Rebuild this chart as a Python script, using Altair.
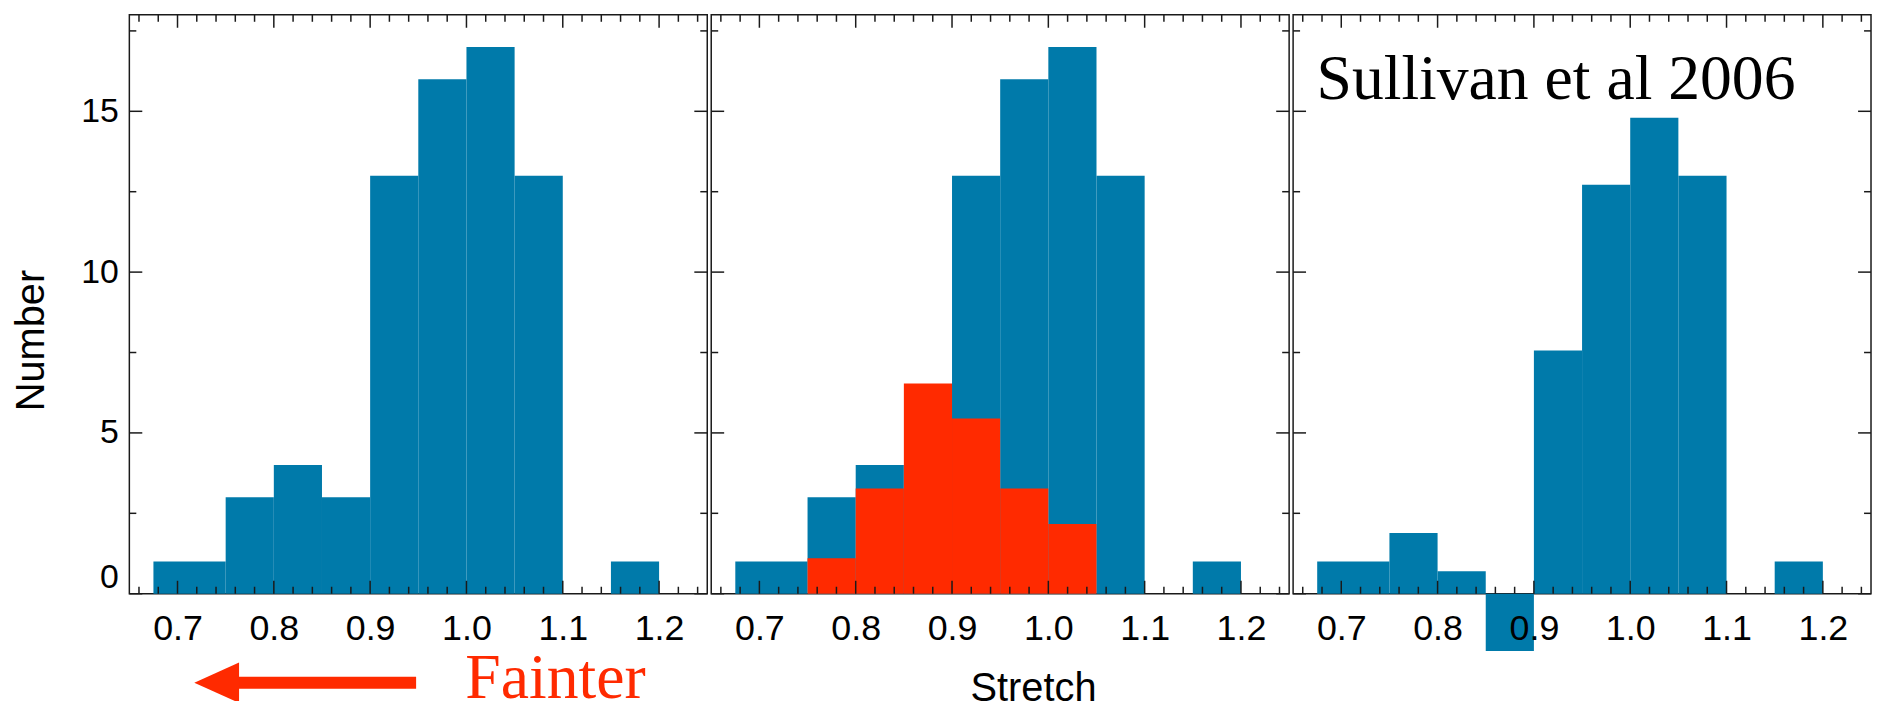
import altair as alt
import pandas as pd

# ---------------- data ----------------
bin_start = [0.675, 0.75, 0.80, 0.85, 0.90, 0.95, 1.00, 1.05, 1.10, 1.15]
bin_end = [0.75, 0.80, 0.85, 0.90, 0.95, 1.00, 1.05, 1.10, 1.15, 1.20]
all_counts = [1, 3, 4, 3, 13, 16, 17, 13, 0, 1]

red_start = [0.75, 0.80, 0.85, 0.90, 0.95, 1.00]
red_end = [0.80, 0.85, 0.90, 0.95, 1.00, 1.05]
red_counts = [1.1, 3.27, 6.54, 5.45, 3.27, 2.17]

corrected_counts = [1, 1.89, 0.70, -1.78, 7.56, 12.72, 14.8, 13.0, 0, 1]

x_major = [0.7, 0.8, 0.9, 1.0, 1.1, 1.2]
x_minor = [0.66, 0.68, 0.72, 0.74, 0.76, 0.78, 0.82, 0.84, 0.86, 0.88,
           0.92, 0.94, 0.96, 0.98, 1.02, 1.04, 1.06, 1.08,
           1.12, 1.14, 1.16, 1.18, 1.22, 1.24]
y_major = [0, 5, 10, 15]
y_minor = [2.5, 7.5, 12.5, 17.5]

# ---------------- style ----------------
W, H = 581, 582
BLUE = "#007AAA"
RED = "#FF2A00"
INK = "#1a1a1a"
SANS = "Liberation Sans"
SERIF = "Liberation Serif"

xs = alt.Scale(domain=[0.65, 1.25], nice=False, zero=False)
ys = alt.Scale(domain=[0, 18], nice=False, zero=False)

x_axis = alt.Axis(values=x_major, format=".1f", labelFontSize=36, labelFont=SANS,
                  labelColor="black", ticks=False, tickSize=0, domain=False, grid=False,
                  title=None, labelPadding=18, labelFlush=False, zindex=1)

y_axis_main = alt.Axis(values=y_major, format="d", labelFontSize=34, labelFont=SANS,
                       labelColor="black", ticks=False, tickSize=0, domain=False, grid=False,
                       labelPadding=11, labelFlush=False,
                       labelOffset={"condition": {"test": "datum.value === 0", "value": -16}, "value": 0},
                       title="Number", titleFont=SANS, titleFontSize=40, titleFontWeight="normal",
                       titleColor="black", titleAngle=270, titleX=-98.7, titleY=327,
                       titleAlign="center", titleBaseline="middle")

one = pd.DataFrame({"a": [0]})


def hist(start, end, counts, color, yaxis):
    df = pd.DataFrame({"start": start, "end": end, "count": counts, "zero": [0] * len(counts)})
    return alt.Chart(df).mark_rect(color=color).encode(
        x=alt.X("start:Q", scale=xs, axis=x_axis),
        x2="end:Q",
        y=alt.Y("zero:Q", scale=ys, axis=yaxis),
        y2="count:Q",
    )


def tick_layers(yaxis):
    layers = []
    for vals, ln in ((x_major, 13), (x_minor, 7)):
        df = pd.DataFrame({"v": vals})
        base = alt.Chart(df).mark_rule(color=INK, strokeWidth=1.5)
        layers.append(base.encode(x=alt.X("v:Q", scale=xs, axis=x_axis),
                                  y=alt.value(H), y2=alt.value(H - ln)))
        layers.append(base.encode(x=alt.X("v:Q", scale=xs, axis=x_axis),
                                  y=alt.value(0), y2=alt.value(ln)))
    for vals, ln in ((y_major, 13), (y_minor, 7)):
        df = pd.DataFrame({"v": vals})
        base = alt.Chart(df).mark_rule(color=INK, strokeWidth=1.5)
        layers.append(base.encode(y=alt.Y("v:Q", scale=ys, axis=yaxis),
                                  x=alt.value(0), x2=alt.value(ln)))
        layers.append(base.encode(y=alt.Y("v:Q", scale=ys, axis=yaxis),
                                  x=alt.value(W), x2=alt.value(W - ln)))
    return layers


# ---------------- panel 1 ----------------
fainter = alt.Chart(one).mark_text(text="Fainter", font=SERIF, fontSize=64, color=RED,
                                   align="left", baseline="alphabetic").encode(
    x=alt.value(337.8), y=alt.value(687.3))
shaft = alt.Chart(one).mark_rule(color=RED, strokeWidth=12, strokeCap="butt").encode(
    x=alt.value(109), x2=alt.value(288.3), y=alt.value(671.5))
head = alt.Chart(one).mark_point(shape="M -1 0 L 1 -0.9 L 1 0.9 Z", size=2025, filled=True,
                                 color=RED, opacity=1, strokeWidth=0).encode(
    x=alt.value(87.8), y=alt.value(671.5))

p1 = alt.layer(hist(bin_start, bin_end, all_counts, BLUE, y_axis_main),
               *tick_layers(y_axis_main), shaft, head, fainter).properties(width=W, height=H)

# ---------------- panel 2 ----------------
stretch = alt.Chart(one).mark_text(text="Stretch", font=SANS, fontSize=40, color="black",
                                   align="center", baseline="alphabetic").encode(
    x=alt.value(324), y=alt.value(690))
p2 = alt.layer(hist(bin_start, bin_end, all_counts, BLUE, None),
               hist(red_start, red_end, red_counts, RED, None),
               *tick_layers(None), stretch).properties(width=W, height=H)

# ---------------- panel 3 ----------------
sullivan = alt.Chart(one).mark_text(text="Sullivan et al 2006", font=SERIF, fontSize=64,
                                    color="black", align="left", baseline="alphabetic").encode(
    x=alt.value(23.5), y=alt.value(84.5))
p3 = alt.layer(hist(bin_start, bin_end, corrected_counts, BLUE, None),
               *tick_layers(None), sullivan).properties(width=W, height=H)

chart = alt.hconcat(p1, p2, p3, spacing=0).properties(
    padding={"left": 2, "top": 3, "right": 0, "bottom": -14},
    background="white",
).configure_view(stroke=INK, strokeWidth=1.5)

chart.save("out.html", embed_options={"renderer": "svg", "actions": False})
